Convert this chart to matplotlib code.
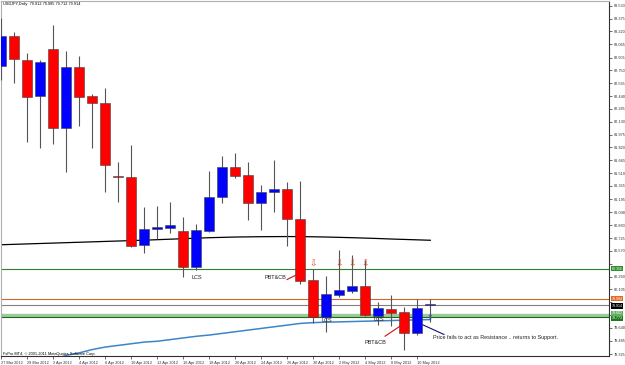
import matplotlib.pyplot as plt
import matplotlib.transforms as mtransforms
import numpy as np

plt.rcParams['font.family'] = ['Liberation Sans', 'DejaVu Sans']

# USDJPY daily bars, 27 Mar 2012 .. 11 May 2012
opens = [82.806, 83.164, 82.875, 82.444, 83.011, 82.050, 82.794, 82.440, 82.359, 81.468,
         81.466, 80.642, 80.831, 80.851, 80.811, 80.372, 80.814, 81.225, 81.580, 81.487,
         81.152, 81.285, 81.314, 80.955, 80.219, 79.776, 80.038, 80.090, 80.150, 79.788,
         79.866, 79.830, 79.576, 79.912]
highs = [83.382, 83.216, 82.963, 82.875, 83.297, 82.987, 82.923, 82.461, 82.540, 81.647,
         81.849, 81.097, 81.112, 81.164, 80.976, 80.895, 81.539, 81.716, 81.756, 81.640,
         81.366, 81.668, 81.399, 81.418, 80.348, 80.268, 80.581, 80.521, 80.461, 79.957,
         80.038, 79.897, 79.986, 79.985]
lows = [82.633, 82.601, 81.888, 81.809, 81.857, 81.526, 82.078, 81.809, 81.285, 81.164,
        80.621, 80.541, 80.710, 80.783, 80.259, 80.340, 80.802, 81.145, 81.447, 80.943,
        80.823, 81.044, 80.630, 80.171, 79.697, 79.595, 80.010, 80.066, 79.790, 79.676,
        79.668, 79.374, 79.555, 79.712]
closes = [83.164, 82.883, 82.432, 82.850, 82.050, 82.794, 82.432, 82.359, 81.607, 81.462,
          80.633, 80.831, 80.863, 80.879, 80.372, 80.819, 81.225, 81.580, 81.475, 81.152,
          81.278, 81.314, 80.959, 80.211, 79.776, 80.050, 80.099, 80.147, 79.797, 79.877,
          79.825, 79.583, 79.885, 79.914]

ma_black = [80.645, 80.650, 80.655, 80.660, 80.665, 80.670, 80.675, 80.680, 80.685, 80.690,
            80.695, 80.700, 80.706, 80.712, 80.718, 80.724, 80.730, 80.734, 80.738, 80.740,
            80.742, 80.743, 80.744, 80.743, 80.741, 80.738, 80.734, 80.730, 80.725, 80.720,
            80.714, 80.709, 80.704, 80.699]
ma_blue = [79.05, 79.10, 79.15, 79.20, 79.26, 79.31, 79.34, 79.38, 79.41, 79.43,
           79.45, 79.47, 79.48, 79.50, 79.52, 79.54, 79.555, 79.575, 79.595, 79.615,
           79.635, 79.655, 79.675, 79.695, 79.705, 79.710, 79.714, 79.718, 79.722, 79.726,
           79.730, 79.734, 79.738, 79.742]

date_labels = ['27 Mar 2012', '29 Mar 2012', '2 Apr 2012', '4 Apr 2012', '6 Apr 2012',
               '10 Apr 2012', '12 Apr 2012', '16 Apr 2012', '18 Apr 2012', '20 Apr 2012',
               '24 Apr 2012', '26 Apr 2012', '30 Apr 2012', '2 May 2012', '4 May 2012',
               '8 May 2012', '10 May 2012']
price_ticks = [83.530, 83.375, 83.220, 83.065, 82.905, 82.750, 82.595, 82.440, 82.285,
               82.130, 81.975, 81.820, 81.665, 81.510, 81.355, 81.195, 81.040, 80.880,
               80.725, 80.570, 80.415, 80.260, 80.105, 79.950, 79.795, 79.640, 79.485,
               79.325]
# tick labels hidden behind the level labels on the price scale
hidden_ticks = [80.415, 79.950, 79.795]

# horizontal levels: price, line colour, line width, label colour, label position
levels = [
    (80.356, '#2f7f2f', 0.8, '#2f8f2f', 80.356),
    (79.984, '#d06a30', 0.8, '#e06a2a', 79.994),
    (79.914, '#808080', 0.8, '#000000', 79.906),
    (79.802, '#98cc98', 2.4, '#60b060', 79.818),
    (79.773, '#1f6a1f', 0.8, '#1f7a1f', 79.757),
]

fig = plt.figure(figsize=(6.25, 3.65), dpi=100)
ax = fig.add_axes([1 / 625, 1 - 356 / 365, 608 / 625, 355 / 365])

x = np.arange(len(opens))
o = np.array(opens)
c = np.array(closes)
up = c >= o
colors = np.where(up, '#0000ff', '#ff0000')

# levels
for price, lc, lw, _, _ in levels:
    ax.axhline(price, color=lc, lw=lw, zorder=1)

# moving averages
ax.plot(x, ma_black, color='#000000', lw=0.9, zorder=2)
ax.plot(x, ma_blue, color='#3d85c6', lw=1.1, zorder=2)

# candles
ax.vlines(x, lows, highs, color='#555555', lw=0.8, zorder=3)
bottoms = np.minimum(o, c)
heights = np.maximum(np.abs(c - o), 0.012)
ax.bar(x, heights, bottom=bottoms, width=0.77, color=colors,
       edgecolor='#404040', linewidth=0.4, zorder=4)

# annotations
ax.text(15.05, 80.249, 'LCS', fontsize=4, ha='center', va='center', color='#202020', zorder=6)
ax.text(21.05, 80.249, 'PBT&CB', fontsize=4, ha='center', va='center', color='#202020', zorder=6)
ax.plot([21.98, 22.75], [80.225, 80.285], color='#d01010', lw=0.8, zorder=6)
ax.text(25.05, 79.731, 'LCS', fontsize=4, ha='center', va='center', color='#202020', zorder=6)
ax.text(29.05, 79.743, 'LCS', fontsize=4, ha='center', va='center', color='#202020', zorder=6)
ax.text(28.75, 79.469, 'PBT&CB', fontsize=4, ha='center', va='center', color='#202020', zorder=6)
ax.plot([29.52, 30.67], [79.541, 79.662], color='#d01010', lw=0.8, zorder=6)
ax.plot([32.44, 34.05], [79.677, 79.562], color='#101080', lw=0.8, zorder=6)
ax.text(33.2, 79.526, 'Price fails to act as Resistance .. returns to Support.',
        fontsize=3.9, ha='left', va='center', color='#202020', zorder=6)
for xi in [24, 26, 27, 28]:
    ax.text(xi, 80.417, '\u21e9', fontsize=6.5, ha='center', va='center',
            color='#e04a2a', family='DejaVu Sans', zorder=6)
ax.text(33, 79.771, '\u21e7', fontsize=5.5, ha='center', va='center',
        color='#3050c0', family='DejaVu Sans', zorder=6)

ax.set_xlim(-0.023, 46.746)
ax.set_ylim(79.302, 83.587)

ax.set_xticks(np.arange(0, 33, 2))
ax.set_xticklabels(date_labels, fontsize=2.8, ha='left')
ax.set_yticks(price_ticks)
ax.set_yticklabels(['' if p in hidden_ticks else '%.3f' % p for p in price_ticks], fontsize=2.8)
ax.yaxis.tick_right()
ax.tick_params(axis='both', direction='out', length=2, width=0.5, colors='#303030', pad=1.5)

for side in ['top', 'left']:
    ax.spines[side].set_color('#b0b0b0')
    ax.spines[side].set_linewidth(0.8)
for side in ['right', 'bottom']:
    ax.spines[side].set_color('#303030')
    ax.spines[side].set_linewidth(0.8)

# level labels on the price scale
trans = mtransforms.blended_transform_factory(ax.transAxes, ax.transData)
for price, _, _, bc, ly in levels:
    ax.text(1.004, ly, '%.3f' % price, transform=trans, fontsize=2.6, color='white',
            ha='left', va='center', clip_on=False, zorder=10,
            bbox=dict(boxstyle='square,pad=0.15', fc=bc, ec='none'))

fig.text(3 / 625, 1 - 4.5 / 365, 'USDJPY,Daily  79.912 79.985 79.712 79.914',
         fontsize=2.8, ha='left', va='center', color='#000000')
fig.text(3 / 625, 1 - 354 / 365, 'FxPro MT4, \u00a9 2001-2011 MetaQuotes Software Corp.',
         fontsize=2.8, ha='left', va='center', color='#000000')

plt.savefig('out.png', dpi=100, facecolor='white')
